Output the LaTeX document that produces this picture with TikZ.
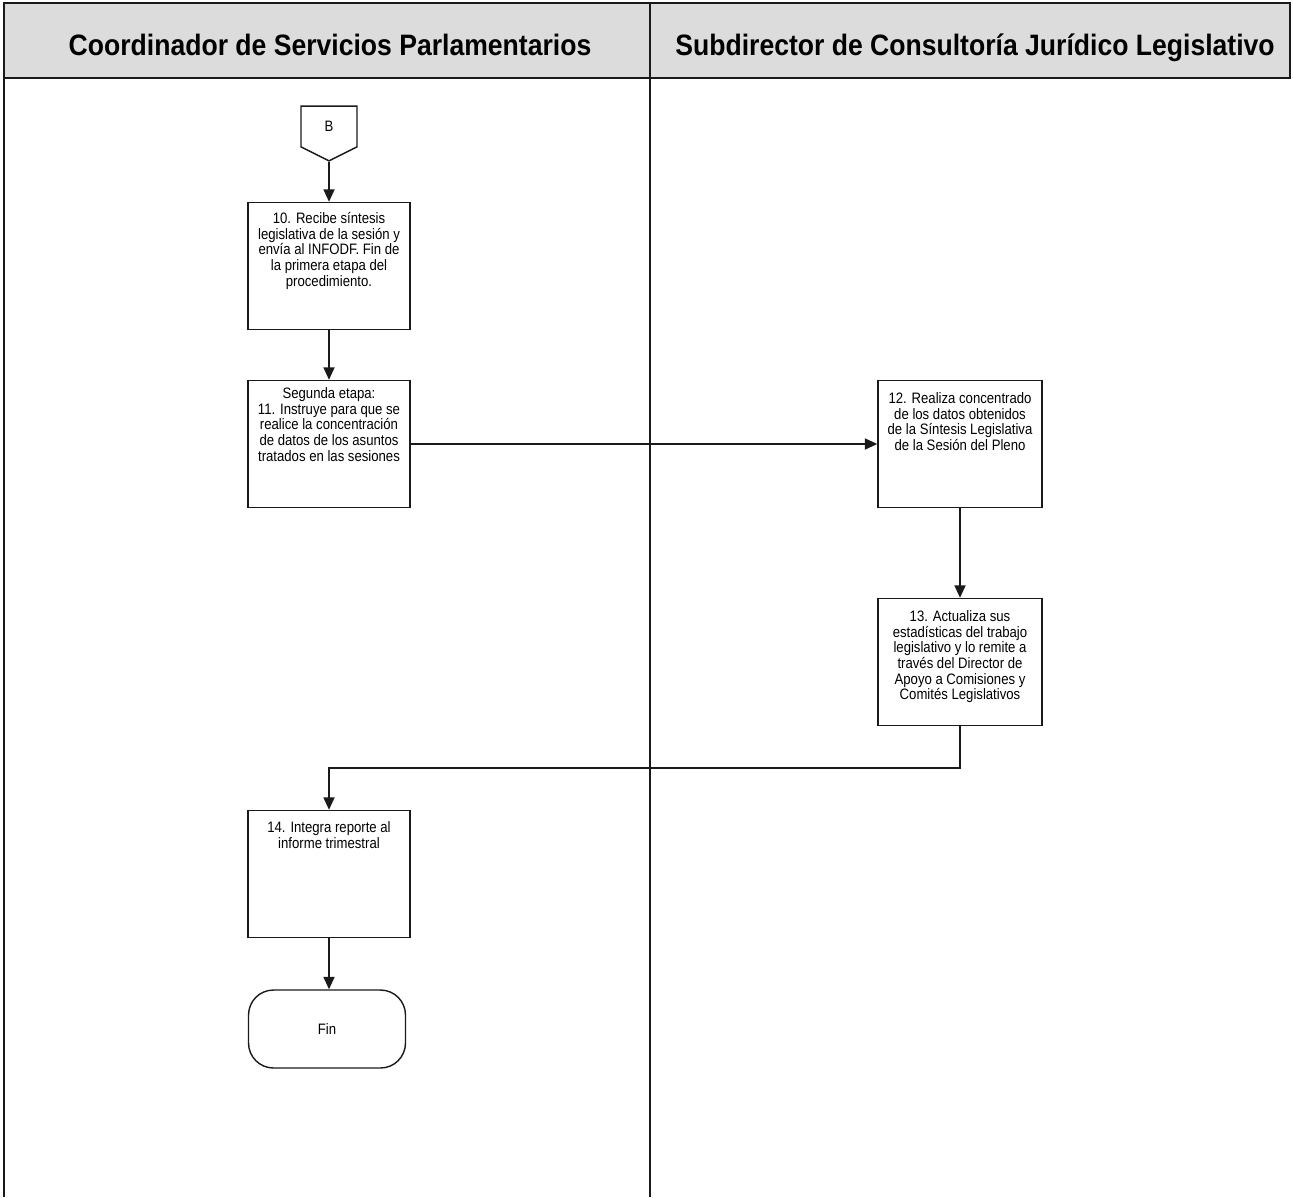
\documentclass[tikz,border=0pt]{standalone}
\usepackage{fontspec}
\setmainfont{Liberation Sans}
\newfontfamily\narrowfont[FakeStretch=0.87]{Liberation Sans}
\newfontfamily\headfont[FakeStretch=0.9]{Liberation Sans}
\usetikzlibrary{arrows.meta, positioning, shapes.symbols, calc}
\definecolor{cline}{HTML}{1A1A1A}
\definecolor{chead}{HTML}{DCDCDC}
\tikzset{
  every picture/.style={line width=0.8pt, draw=cline},
  procbox/.style={draw=cline, fill=white, minimum width=3.24cm, minimum height=2.54cm, inner sep=0pt},
  proclabel/.style={anchor=north, align=center, font=\narrowfont\fontsize{8.6}{8.9}\selectfont, inner sep=0pt},
  offpage/.style={draw=cline, shape=signal, signal to=south, signal from=nowhere, signal pointer angle=127,
    minimum width=1.12cm, minimum height=0.86cm, font=\narrowfont\fontsize{8.6}{9}\selectfont, inner sep=0pt},
  terminal/.style={draw=cline, rounded corners=0.5cm, minimum width=3.14cm, minimum height=1.56cm,
    font=\narrowfont\fontsize{8.6}{9}\selectfont},
  flow/.style={-{Triangle[length=0.25cm, width=0.22cm]}, draw=cline, line width=1pt},
  lanehead/.style={anchor=base, font=\headfont\bfseries\fontsize{16.8}{18}\selectfont},
}

\begin{document}
\begin{tikzpicture}[x=0.02cm, y=-0.02cm]
  \useasboundingbox (0,0) rectangle (1293,1197);
  % lanes
  \draw[fill=chead, line width=1.2pt] (4,3) rectangle (1290,78);
  \draw (4,78) -- (4,1197);
  \draw (650,3) -- (650,1197);
  \node[lanehead] (lane1) at (330,55) {Coordinador de Servicios Parlamentarios};
  \node[lanehead] (lane2) at (975,55) {Subdirector de Consultoría Jurídico Legislativo};

  % steps
  \node[offpage] (conB) at (329,126.5) {B};
  \node[procbox] (p10) at (329,266) {};
  \node[proclabel] (t10) at ($(p10.north)+(0,10)$) {10. Recibe síntesis\\legislativa de la sesión y\\envía al INFODF. Fin de\\la primera etapa del\\procedimiento.};
  \node[procbox] (p11) at (329,444) {};
  \node[proclabel] (t11) at ($(p11.north)+(0,7)$) {Segunda etapa:\\11. Instruye para que se\\realice la concentración\\de datos de los asuntos\\tratados en las sesiones};
  \node[procbox, minimum width=3.28cm] (p12) at (960,444) {};
  \node[proclabel] (t12) at ($(p12.north)+(0,12)$) {12. Realiza concentrado\\de los datos obtenidos\\de la Síntesis Legislativa\\de la Sesión del Pleno};
  \node[procbox, minimum width=3.28cm] (p13) at (960,662) {};
  \node[proclabel] (t13) at ($(p13.north)+(0,12)$) {13. Actualiza sus\\estadísticas del trabajo\\legislativo y lo remite a\\través del Director de\\Apoyo a Comisiones y\\Comités Legislativos};
  \node[procbox] (p14) at (329,874) {};
  \node[proclabel] (t14) at ($(p14.north)+(0,11)$) {14. Integra reporte al\\informe trimestral};
  \node[terminal] (fin) at (327,1029) {Fin};

  % connectors
  \draw[flow] (conB.south) -- (p10.north);
  \draw[flow] (p10.south) -- (p11.north);
  \draw[flow] (p11.east) -- (p12.west);
  \draw[flow] (p12.south) -- (p13.north);
  \draw[flow] (p13.south) -- ++(0,42) -| (p14.north);
  \draw[flow] (p14.south) -- (p14.south |- fin.north);
\end{tikzpicture}
\end{document}
